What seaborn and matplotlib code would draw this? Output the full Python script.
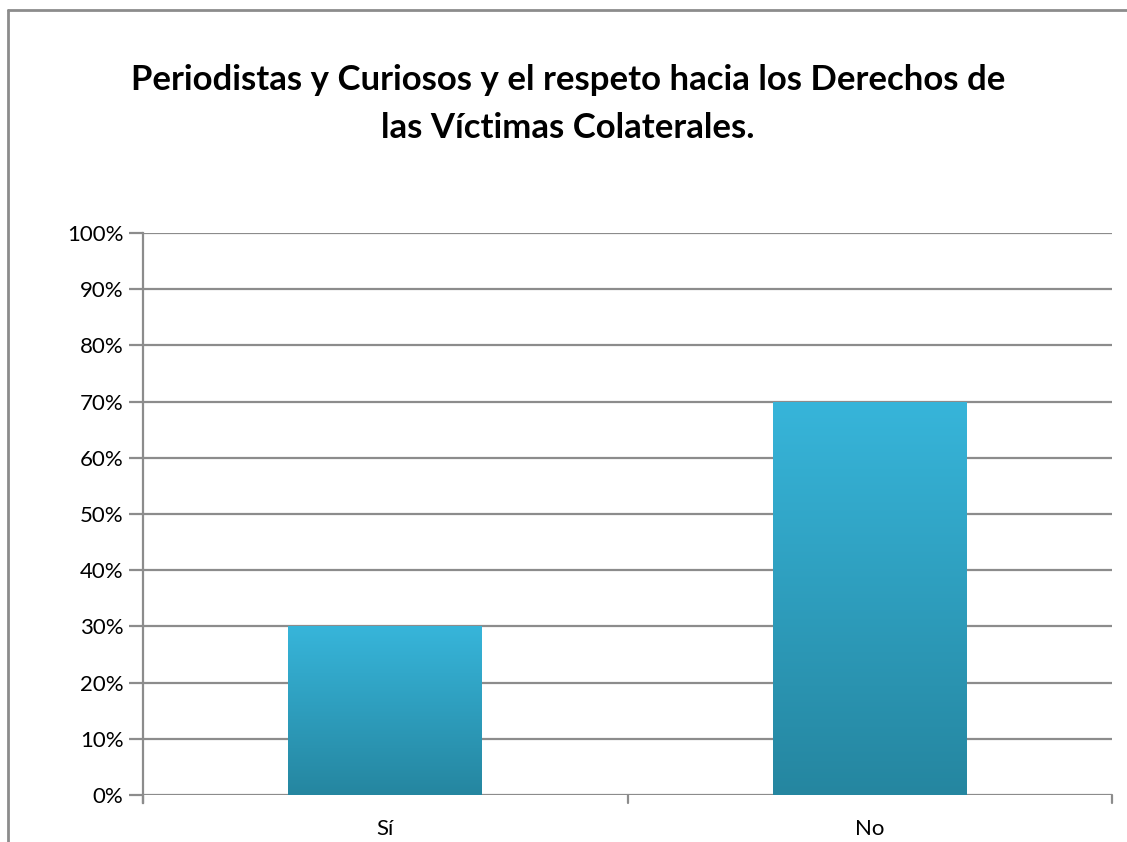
import numpy as np
import pandas as pd
import matplotlib
matplotlib.use("Agg")
import matplotlib.pyplot as plt
import seaborn as sns
from matplotlib.colors import LinearSegmentedColormap
from matplotlib.lines import Line2D

categories = ["Sí", "No"]
values = [30, 70]
yticks = [0, 10, 20, 30, 40, 50, 60, 70, 80, 90, 100]
title = "Periodistas y Curiosos y el respeto hacia los Derechos de\nlas Víctimas Colaterales."

sns.set_theme(style="white")
plt.rcParams['font.family'] = ['Lato', 'DejaVu Sans']

W, H = 1127, 842
fig = plt.figure(figsize=(W / 100, H / 100), dpi=100)
ax = fig.add_axes([143 / W, 1 - 795 / H, (1112 - 143) / W, (795 - 233) / H])

df = pd.DataFrame({"cat": categories, "val": values})
sns.barplot(data=df, x="cat", y="val", ax=ax, width=0.4, color="#31a6c8",
            saturation=1, edgecolor="none")

ax.set_xlim(-0.5, 1.5)
ax.set_ylim(0, 100)
ax.set_yticks(yticks)
ax.set_yticklabels([f"{t}%" for t in yticks])
ax.set_xlabel("")
ax.set_ylabel("")

gray = "#8c8c8c"
for t in yticks:
    ax.axhline(t, color=gray, lw=1.6, zorder=0)

# gradient fill on bars
cmap = LinearSegmentedColormap.from_list("g", ["#2586a0", "#37b5da"])
grad = np.linspace(0, 1, 256).reshape(-1, 1)
for p in list(ax.patches):
    x0, y0 = p.get_x(), p.get_y()
    w, h = p.get_width(), p.get_height()
    im = ax.imshow(grad, cmap=cmap, origin="lower", aspect="auto",
                   extent=[x0, x0 + w, y0, y0 + h], zorder=3)
    im.set_clip_path(p)
    p.set_facecolor("none")
ax.set_xlim(-0.5, 1.5)
ax.set_ylim(0, 100)

for s in ["top", "right", "bottom"]:
    ax.spines[s].set_visible(False)
ax.spines["left"].set_color(gray)
ax.spines["left"].set_linewidth(1.6)
ax.spines["left"].set_bounds(-1.4, 100)

ax.tick_params(axis="y", length=10, width=1.6, color=gray, labelsize=16, pad=4, left=True)
ax.tick_params(axis="x", length=0, labelsize=16, pad=17)
for lab in ax.get_xticklabels() + ax.get_yticklabels():
    lab.set_color("black")

# category boundary ticks on x axis
for xb in [-0.5, 0.5, 1.5]:
    ax.plot([xb, xb], [0, -1.4], color=gray, lw=1.6, clip_on=False, zorder=1)

fig.text(568 / W, 1 - 104 / H, title, ha="center", va="center",
         fontsize=25, fontweight="bold", linespacing=1.6, color="black")

# outer border (left, top)
fig.add_artist(Line2D([8 / W, 8 / W], [0, 1 - 10 / H], color=gray, lw=2, transform=fig.transFigure))
fig.add_artist(Line2D([8 / W, 1], [1 - 10 / H, 1 - 10 / H], color=gray, lw=2, transform=fig.transFigure))

fig.savefig("out.png", dpi=100, facecolor="white")
